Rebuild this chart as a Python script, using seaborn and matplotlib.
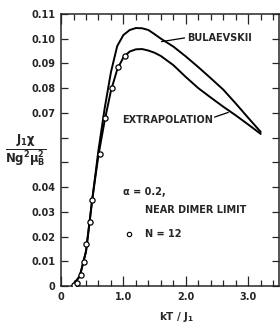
# susceptibility vs temperature, alpha = 0.2 near dimer limit
import seaborn as sns
import pandas as pd
import matplotlib.pyplot as plt
from matplotlib.ticker import MultipleLocator, FixedLocator

# data
kt_curve = [0.18, 0.3, 0.4, 0.5, 0.6, 0.7, 0.8, 0.9, 1.0, 1.1, 1.2, 1.3, 1.4, 1.5,
            1.6, 1.8, 2.0, 2.2, 2.4, 2.6, 2.8, 3.0, 3.2]
bulaevskii = [0.0, 0.004, 0.014, 0.035, 0.055, 0.072, 0.0865, 0.097, 0.1015, 0.1035,
              0.1043, 0.1042, 0.1035, 0.1018, 0.1000, 0.0968, 0.0928, 0.0885, 0.0840,
              0.0794, 0.0738, 0.0680, 0.0623]
extrapolation = [0.0, 0.004, 0.014, 0.035, 0.053, 0.067, 0.079, 0.0875, 0.0925, 0.0948,
                 0.0957, 0.0958, 0.0952, 0.0943, 0.0930, 0.0893, 0.0845, 0.0800, 0.0762,
                 0.0725, 0.0690, 0.0653, 0.0615]

kt_n12 = [0.20, 0.25, 0.32, 0.36, 0.40, 0.46, 0.50, 0.62, 0.71, 0.81, 0.92, 1.02]
chi_n12 = [0.0004, 0.0013, 0.0045, 0.0098, 0.017, 0.0258, 0.0348, 0.0534, 0.068,
           0.080, 0.0884, 0.0928]

ytick_vals = [0, 0.01, 0.02, 0.03, 0.04, 0.05, 0.06, 0.07, 0.08, 0.09, 0.10, 0.11]
ytick_labels = ['0', '0.01', '0.02', '0.03', '0.04', '', '', '0.07', '0.08', '0.09', '0.10', '0.11']
xtick_vals = [0, 1, 2, 3]
xtick_labels = ['0', '1.0', '2.0', '3.0']

df_curves = pd.DataFrame({'kT': kt_curve, 'Bulaevskii': bulaevskii, 'Extrapolation': extrapolation})
df_pts = pd.DataFrame({'kT': kt_n12, 'chi': chi_n12})

#setting style
sns.set_style('ticks')
plt.rcParams['font.family'] = ['DejaVu Sans']
plt.rcParams['font.weight'] = 'bold'
plt.rcParams['mathtext.fontset'] = 'dejavusans'
plt.rcParams['mathtext.default'] = 'bf'

fig = plt.figure(figsize=(2.8, 3.24), dpi=100)
ax = fig.add_axes([0.218, 0.117, 0.78, 0.84])

# curves
sns.lineplot(data=df_curves, x='kT', y='Bulaevskii', color='black', lw=1.4, ax=ax)
sns.lineplot(data=df_curves, x='kT', y='Extrapolation', color='black', lw=1.4, ax=ax)
sns.scatterplot(data=df_pts, x='kT', y='chi', marker='o', s=14, facecolor='white',
                edgecolor='black', linewidth=0.9, zorder=5, ax=ax)

ax.set_xlim(0, 3.5)
ax.set_ylim(0, 0.11)

# ticks
ax.yaxis.set_major_locator(FixedLocator(ytick_vals))
ax.set_yticklabels(ytick_labels)
ax.xaxis.set_major_locator(FixedLocator(xtick_vals))
ax.set_xticklabels(xtick_labels)
ax.xaxis.set_minor_locator(MultipleLocator(0.2))
ax.tick_params(axis='both', which='both', direction='in', labelsize=7, width=0.9,
               top=True, right=True, pad=4)
ax.tick_params(axis='x', which='major', length=7)
ax.tick_params(axis='x', which='minor', length=4.5)
ax.tick_params(axis='y', which='major', length=5)
for lab in ax.get_xticklabels() + ax.get_yticklabels():
    lab.set_fontweight('bold')
for sp in ax.spines.values():
    sp.set_linewidth(1.1)

# labels
ax.set_xlabel('kT / J$_1$', fontsize=7.5, fontweight='bold')
ax.xaxis.set_label_coords(0.53, -0.088)
ax.set_ylabel(r'$\frac{J_1\chi}{Ng^2\mu_B^2}$', fontsize=12, rotation=0)
ax.yaxis.set_label_coords(-0.16, 0.5)
ax.yaxis.label.set_verticalalignment('center')
ax.yaxis.label.set_horizontalalignment('center')

# annotations
ax.text(2.02, 0.1003, 'BULAEVSKII', fontsize=7, fontweight='bold', va='center')
ax.plot([1.61, 1.98], [0.0988, 0.1003], color='black', lw=0.9)
ax.text(2.43, 0.0672, 'EXTRAPOLATION', fontsize=7, fontweight='bold', va='center', ha='right')
ax.plot([2.46, 2.68], [0.0683, 0.0702], color='black', lw=0.9)
ax.text(1.0, 0.038, r'α = 0.2,', fontsize=7, fontweight='bold', va='center')
ax.text(1.34, 0.0308, 'NEAR DIMER LIMIT', fontsize=7, fontweight='bold', va='center')
ax.scatter([1.09], [0.021], s=10, facecolor='white', edgecolor='black', linewidth=0.8)
ax.text(1.34, 0.021, 'N = 12', fontsize=7, fontweight='bold', va='center')

# deliver plot
fig.savefig('out.png', dpi=100)
